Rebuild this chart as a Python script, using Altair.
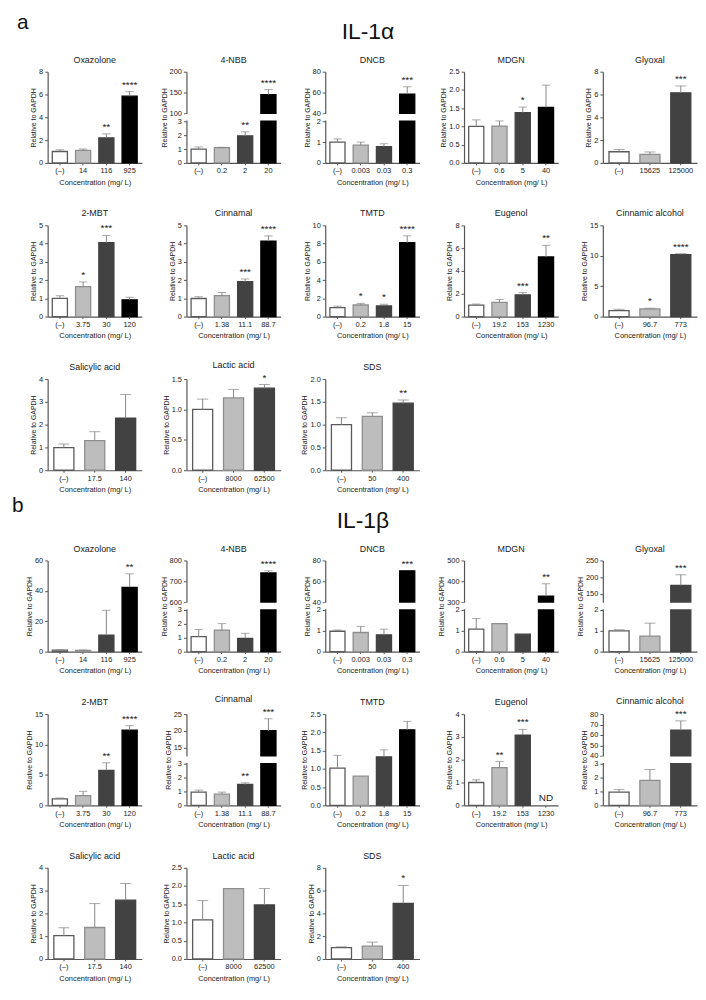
import altair as alt
import pandas as pd

FONT = "Liberation Sans"

# ---------------- data ----------------
TITLES = ["Oxazolone", "4-NBB", "DNCB", "MDGN", "Glyoxal",
          "2-MBT", "Cinnamal", "TMTD", "Eugenol", "Cinnamic alcohol",
          "Salicylic acid", "Lactic acid", "SDS"]

CONC = [
    ["(–)", "14", "116", "925"],
    ["(–)", "0.2", "2", "20"],
    ["(–)", "0.003", "0.03", "0.3"],
    ["(–)", "0.6", "5", "40"],
    ["(–)", "15625", "125000"],
    ["(–)", "3.75", "30", "120"],
    ["(–)", "1.38", "11.1", "88.7"],
    ["(–)", "0.2", "1.8", "15"],
    ["(–)", "19.2", "153", "1230"],
    ["(–)", "96.7", "773"],
    ["(–)", "17.5", "140"],
    ["(–)", "8000", "62500"],
    ["(–)", "50", "400"],
]

X_TITLE = "Concentration (mg/ L)"
Y_TITLE = "Relative to GAPDH"

# IL-1α (panel a): mean, mean+SD, significance, y ticks, axis break (low max, high min)
A_MEAN = [
    [1.0, 1.1, 2.2, 5.85],
    [1.0, 1.1, 1.95, 145],
    [1.0, 0.85, 0.78, 58.5],
    [1.0, 1.01, 1.38, 1.52],
    [0.98, 0.75, 6.15],
    [1.0, 1.64, 4.05, 0.92],
    [0.99, 1.15, 1.91, 4.13],
    [0.98, 1.27, 1.17, 8.1],
    [1.0, 1.25, 1.9, 5.23],
    [0.98, 1.26, 10.2],
    [0.99, 1.3, 2.28],
    [1.0, 1.19, 1.35],
    [1.0, 1.18, 1.47],
]
A_ERR = [
    [1.15, 1.22, 2.55, 6.25],
    [1.15, 1.13, 2.24, 157],
    [1.15, 1.0, 0.92, 65.5],
    [1.18, 1.15, 1.53, 2.13],
    [1.18, 0.96, 6.75],
    [1.14, 1.9, 4.45, 1.06],
    [1.09, 1.32, 2.06, 4.42],
    [1.15, 1.45, 1.35, 8.85],
    [1.1, 1.5, 2.1, 6.25],
    [1.2, 1.37, 10.35],
    [1.15, 1.69, 3.32],
    [1.17, 1.33, 1.41],
    [1.15, 1.26, 1.54],
]
A_STARS = [
    ["", "", "**", "****"],
    ["", "", "**", "****"],
    ["", "", "", "***"],
    ["", "", "*", ""],
    ["", "", "***"],
    ["", "*", "***", ""],
    ["", "", "***", "****"],
    ["", "*", "*", "****"],
    ["", "", "***", "**"],
    ["", "*", "****"],
    ["", "", ""],
    ["", "", "*"],
    ["", "", "**"],
]
A_TICKS = [
    [0, 2, 4, 6, 8],
    [0, 1, 2, 3, 100, 150, 200],
    [0, 1, 2, 40, 60, 80],
    [0, 0.5, 1.0, 1.5, 2.0, 2.5],
    [0, 2, 4, 6, 8],
    [0, 1, 2, 3, 4, 5],
    [0, 1, 2, 3, 4, 5],
    [0, 2, 4, 6, 8, 10],
    [0, 2, 4, 6, 8],
    [0, 5, 10, 15],
    [0, 1, 2, 3, 4],
    [0, 0.5, 1.0, 1.5],
    [0, 0.5, 1.0, 1.5, 2.0],
]
A_BREAK = [None, (3, 100), (2, 40), None, None, None, None, None, None, None, None, None, None]
A_HAS_XTITLE = [True, False, True, True, False, True, True, True, True, True, True, True, True]

# IL-1β (panel b)
B_MEAN = [
    [1.0, 0.9, 10.9, 42.3],
    [1.08, 1.55, 0.96, 740],
    [0.98, 0.92, 0.81, 70],
    [1.08, 1.35, 0.84, 328],
    [1.0, 0.75, 175],
    [1.05, 1.6, 5.75, 12.35],
    [0.95, 0.8, 1.5, 20],
    [1.02, 0.8, 1.33, 2.07],
    [1.0, 1.65, 3.08, None],
    [0.95, 1.8, 64.5],
    [1.02, 1.38, 2.58],
    [1.07, 1.93, 1.48],
    [0.99, 1.12, 4.88],
]
B_ERR = [
    [1.3, 1.1, 27.2, 51.2],
    [1.6, 2.02, 1.32, 750],
    [1.04, 1.21, 1.08, None],
    [1.59, None, None, 388],
    [1.05, 1.37, 207],
    [1.2, 2.3, 7.0, 13.1],
    [1.1, 0.95, 1.62, 23.6],
    [1.37, None, 1.52, 2.3],
    [1.12, 1.92, 3.33, None],
    [1.13, 2.58, 73.5],
    [1.37, 2.43, 3.31],
    [1.6, None, 1.93],
    [1.07, 1.48, 6.45],
]
B_STARS = [
    ["", "", "", "**"],
    ["", "", "", "****"],
    ["", "", "", "***"],
    ["", "", "", "**"],
    ["", "", "***"],
    ["", "", "**", "****"],
    ["", "", "**", "***"],
    ["", "", "", ""],
    ["", "**", "***", "ND"],
    ["", "", "***"],
    ["", "", ""],
    ["", "", ""],
    ["", "", "*"],
]
B_TICKS = [
    [0, 20, 40, 60],
    [0, 1, 2, 3, 600, 700, 800],
    [0, 1, 2, 40, 60, 80],
    [0, 1, 2, 300, 400, 500],
    [0, 1, 2, 150, 200, 250],
    [0, 5, 10, 15],
    [0, 1, 2, 3, 15, 20, 25],
    [0, 0.5, 1.0, 1.5, 2.0, 2.5],
    [0, 1, 2, 3, 4],
    [0, 1, 2, 3, 40, 50, 60, 70, 80],
    [0, 1, 2, 3, 4],
    [0, 0.5, 1.0, 1.5, 2.0, 2.5],
    [0, 2, 4, 6, 8],
]
B_BREAK = [None, (3, 600), (2, 40), (2, 300), (2, 125), None, (3, 12.5), None, None, (3, 40), None, None, None]
B_HAS_XTITLE = [True] * 13

# ---------------- styles ----------------
W, H = 95, 92
SEG = 42
PALETTE = ["#ffffff", "#bdbdbd", "#424242", "#000000"]
EDGE = ["#5a5a5a", "#8e8e8e", "#424242", "#000000"]
ERR = "#858585"
TXT = "#222222"
INNER, OUTER = 0.35, 0.2
HEAD_H, HEAD_GAP = 20, 40


def make_panel(title, labels, means, errs, stars, ticks, brk, has_xtitle):
    n = len(labels)
    sy = [e if e is not None else (m if m is not None else 0) for m, e in zip(means, errs)]
    df = pd.DataFrame({
        "label": labels, "value": means, "err": errs, "star": stars, "sy": sy,
        "base": [0] * n, "fill": PALETTE[:n], "edge": EDGE[:n],
    })
    top = ticks[-1]
    if brk:
        lo, hi = brk
        yscale = alt.Scale(domain=[0, lo, hi, top], range=[H, H - SEG, SEG, 0], nice=False, zero=False)
    else:
        yscale = alt.Scale(domain=[0, top], nice=False, zero=False)
    fmt = ".1f" if any(float(t) != int(t) for t in ticks) else "d"
    yaxis = alt.Axis(values=ticks, format=fmt, title=Y_TITLE, grid=False, zindex=0)

    def Y(field):
        return alt.Y(field, type="quantitative", scale=yscale, axis=yaxis)

    x = alt.X("label:N", sort=labels,
              scale=alt.Scale(paddingInner=INNER, paddingOuter=OUTER),
              axis=alt.Axis(title=X_TITLE if has_xtitle else "", labelAngle=0, zindex=0))
    step = W / (n - INNER + 2 * OUTER)
    capsize = step * (1 - INNER) * 0.55

    base = alt.Chart(df)
    bars = base.transform_filter("isValid(datum.value)").mark_bar(strokeWidth=1.3).encode(
        x=x, y=Y("value"), y2=alt.Y2("base"),
        fill=alt.Fill("fill:N", scale=None), stroke=alt.Stroke("edge:N", scale=None))
    rule = base.transform_filter("isValid(datum.err)").mark_rule(color=ERR, strokeWidth=1).encode(
        x=x, y=Y("value"), y2=alt.Y2("err"))
    cap = base.transform_filter("isValid(datum.err)").mark_tick(color=ERR, thickness=1, size=capsize).encode(
        x=x, y=Y("err"))
    star = base.transform_filter("datum.star != ''").mark_text(
        fontSize=10, baseline="bottom", dy=-2, color=TXT).encode(x=x, y=Y("sy"), text="star:N")
    layers = [bars, rule, cap, star]
    if brk:
        gap = alt.Chart(pd.DataFrame({"value": [lo], "err": [hi]})).mark_rect(
            color="white", yOffset=-0.7, y2Offset=0.7).encode(
            x=alt.value(-1.5), x2=alt.value(W + 1), y=Y("value"), y2=alt.Y2("err"))
        layers.append(gap)
    return alt.layer(*layers).properties(width=W, height=H, title=alt.TitleParams(title))


def make_header(letter, lx, ly, name, nx, ny):
    t1 = alt.Chart(pd.DataFrame({"t": [letter]})).mark_text(
        fontSize=21, align="left", baseline="alphabetic", color="#111111").encode(
        x=alt.value(lx), y=alt.value(ly), text="t:N")
    t2 = alt.Chart(pd.DataFrame({"t": [name]})).mark_text(
        fontSize=23, align="center", baseline="alphabetic", color="#111111").encode(
        x=alt.value(nx), y=alt.value(ny), text="t:N")
    return alt.layer(t1, t2).properties(width=W, height=HEAD_H)


def section(means, errs, stars, ticks, breaks, xt, header):
    panels = [make_panel(TITLES[i], CONC[i], means[i], errs[i], stars[i], ticks[i], breaks[i], xt[i])
              for i in range(len(TITLES))]
    grid = alt.concat(*panels, columns=5, spacing={"row": 63, "column": 45}, bounds="flush")
    return alt.vconcat(make_header(*header), grid, spacing=HEAD_GAP, bounds="flush")


secA = section(A_MEAN, A_ERR, A_STARS, A_TICKS, A_BREAK, A_HAS_XTITLE, ("a", -31, 17, "IL-1α", 323, 27))
secB = section(B_MEAN, B_ERR, B_STARS, B_TICKS, B_BREAK, B_HAS_XTITLE, ("b", -36, 11, "IL-1β", 318, 27))

chart = alt.vconcat(secA, secB, spacing=2).properties(
    padding={"left": 4, "top": 0, "right": 0, "bottom": 0}
).configure(font=FONT).configure_view(stroke=None).configure_axis(
    labelFont=FONT, titleFont=FONT, labelFontSize=7.5, titleFontSize=7.5,
    titleFontWeight="normal", labelColor=TXT, titleColor=TXT,
    domainColor="#555555", domainWidth=1.2, tickColor="#555555", tickWidth=1,
    tickSize=3, labelPadding=2, titlePadding=3,
).configure_axisY(titleFontSize=7, titlePadding=2, titleColor=TXT).configure_axisX(
    tickSize=2, labelPadding=2, titlePadding=4, titleColor=TXT
).configure_title(font=FONT, fontSize=9, fontWeight="normal", color="#1a1a1a", offset=3, anchor="middle")

chart.save("out.html", embed_options={"renderer": "svg", "actions": False})
